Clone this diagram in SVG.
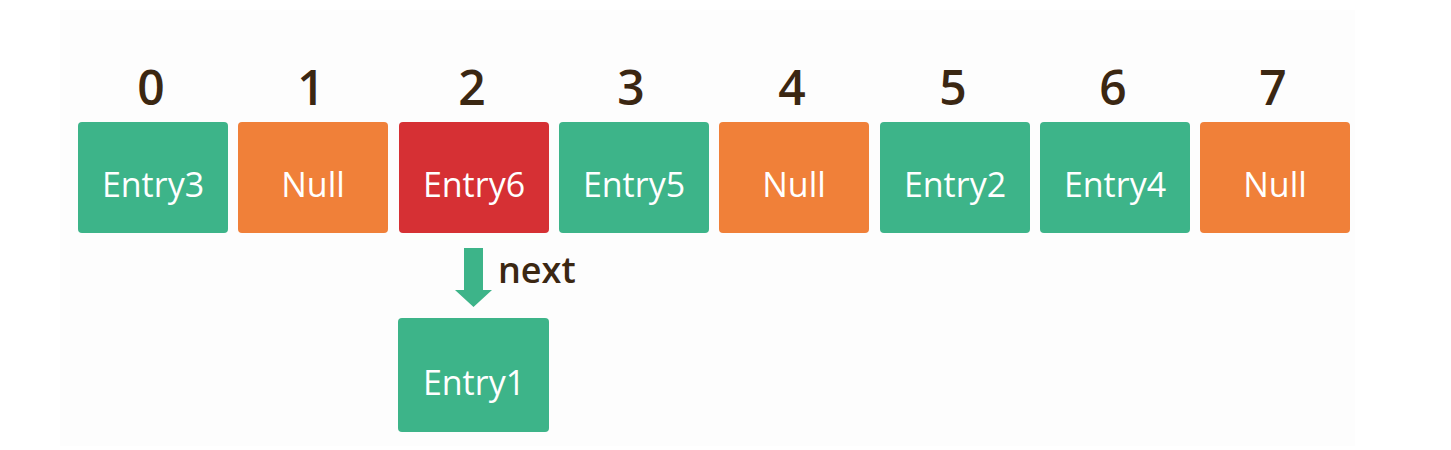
<svg xmlns="http://www.w3.org/2000/svg" width="1451" height="450" viewBox="0 0 1451 450">
<style>
.box{stroke:none}
.g{fill:#3db489}
.o{fill:#f08039}
.r{fill:#d63034}
.lbl{font-family:"Open Sans","Liberation Sans",sans-serif;font-size:34px;fill:#ffffff;text-anchor:middle}
.idx{font-family:"Open Sans","Liberation Sans",sans-serif;font-size:48px;font-weight:600;fill:#3b2712;text-anchor:middle}
.nx{font-family:"Open Sans","Liberation Sans",sans-serif;font-size:36px;font-weight:600;fill:#3b2712}
</style>
<rect width="1451" height="450" fill="#ffffff"/>
<rect x="60" y="10" width="1295" height="436" fill="#fdfdfd"/>
<g id="idx">
<text class="idx" x="151" y="105">0</text>
<text class="idx" x="311" y="105">1</text>
<text class="idx" x="472" y="105">2</text>
<text class="idx" x="631" y="105">3</text>
<text class="idx" x="792" y="105">4</text>
<text class="idx" x="953" y="105">5</text>
<text class="idx" x="1113" y="105">6</text>
<text class="idx" x="1273" y="105">7</text>
</g>
<g id="n0"><rect class="box g" x="78" y="122" width="150" height="111" rx="4"/><text class="lbl" x="153" y="197">Entry3</text></g>
<g id="n1"><rect class="box o" x="238" y="122" width="150" height="111" rx="4"/><text class="lbl" x="313" y="197">Null</text></g>
<g id="n2"><rect class="box r" x="399" y="122" width="150" height="111" rx="4"/><text class="lbl" x="474" y="197">Entry6</text></g>
<g id="n3"><rect class="box g" x="559" y="122" width="150" height="111" rx="4"/><text class="lbl" x="634" y="197">Entry5</text></g>
<g id="n4"><rect class="box o" x="719" y="122" width="150" height="111" rx="4"/><text class="lbl" x="794" y="197">Null</text></g>
<g id="n5"><rect class="box g" x="880" y="122" width="150" height="111" rx="4"/><text class="lbl" x="955" y="197">Entry2</text></g>
<g id="n6"><rect class="box g" x="1040" y="122" width="150" height="111" rx="4"/><text class="lbl" x="1115" y="197">Entry4</text></g>
<g id="n7"><rect class="box o" x="1200" y="122" width="150" height="111" rx="4"/><text class="lbl" x="1275" y="197">Null</text></g>
<g id="n8"><rect class="box g" x="398" y="318" width="151" height="114" rx="4"/><text class="lbl" x="474" y="395">Entry1</text></g>
<g id="connectors">
<path d="M464 248 H483 V290 H492 L473.5 307 L455 290 H464 Z" fill="#3db489"/>
<text class="nx" x="498" y="283">next</text>
</g>
</svg>
